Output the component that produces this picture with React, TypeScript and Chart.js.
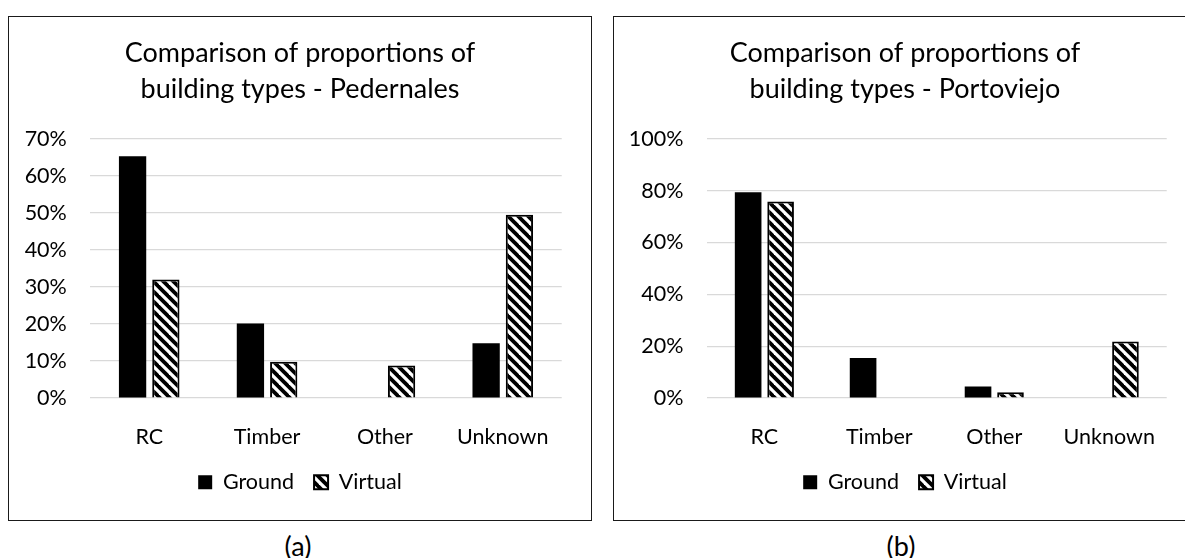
import React, { useEffect, useRef } from "react";
import { Chart, registerables } from "chart.js";

Chart.register(...registerables);

const categories = ["RC", "Timber", "Other", "Unknown"];
const seriesNames = ["Ground", "Virtual"];

const pedernalesTitle = ["Comparison of proportions of", "building types - Pedernales"];
const pedernalesGround = [65.3, 20.1, 0, 14.8];
const pedernalesVirtual = [32.0, 9.8, 8.8, 49.5];
const pedernalesMax = 70;
const pedernalesStep = 10;

const portoviejoTitle = ["Comparison of proportions of", "building types - Portoviejo"];
const portoviejoGround = [79.4, 15.4, 4.4, 0];
const portoviejoVirtual = [75.8, 0, 2.2, 21.8];
const portoviejoMax = 100;
const portoviejoStep = 20;

const captions = ["(a)", "(b)"];

const FONT = "Lato, 'Noto Sans', sans-serif";
const TITLE_SIZE = 27;
const LABEL_SIZE = 21.5;
const CANVAS_W = 582;
const CANVAS_H = 503;

function makePattern(): CanvasPattern | string {
  const c = document.createElement("canvas");
  c.width = 10;
  c.height = 10;
  const g = c.getContext("2d");
  if (!g) return "#888";
  g.fillStyle = "#fff";
  g.fillRect(0, 0, 10, 10);
  g.strokeStyle = "#000";
  g.lineWidth = 3.8;
  for (const k of [-10, 0, 10]) {
    g.beginPath();
    g.moveTo(k - 3, -3);
    g.lineTo(k + 13, 13);
    g.stroke();
  }
  return g.createPattern(c, "repeat") || "#888";
}

type Props = {
  title: string[];
  ground: number[];
  virtualVals: number[];
  yMax: number;
  yStep: number;
  yWidth: number;
};

function BarChart({ title, ground, virtualVals, yMax, yStep, yWidth }: Props) {
  const ref = useRef<HTMLCanvasElement>(null);
  useEffect(() => {
    if (!ref.current) return;
    const pattern = makePattern();
    const labelFont = { family: FONT, size: LABEL_SIZE };
    const chart = new Chart(ref.current, {
      type: "bar",
      data: {
        labels: categories,
        datasets: [
          {
            label: seriesNames[0],
            data: ground,
            backgroundColor: "#000",
            borderWidth: 0,
            categoryPercentage: 0.565,
            barPercentage: 0.82,
          },
          {
            label: seriesNames[1],
            data: virtualVals,
            backgroundColor: pattern as any,
            borderColor: "#000",
            borderWidth: 2,
            categoryPercentage: 0.565,
            barPercentage: 0.82,
          },
        ],
      },
      options: {
        responsive: false,
        animation: false,
        devicePixelRatio: 1,
        layout: { padding: { left: 0, right: 0, top: 0, bottom: 17 } },
        plugins: {
          title: {
            display: true,
            text: title,
            color: "#000",
            font: { family: FONT, size: TITLE_SIZE, weight: "normal", lineHeight: 35.6 / TITLE_SIZE },
            padding: { top: 18.6, bottom: 32 },
          },
          legend: {
            position: "bottom",
            labels: {
              boxWidth: 14,
              boxHeight: 14,
              padding: 20,
              color: "#000",
              font: labelFont,
            },
          },
          tooltip: { enabled: false },
        },
        scales: {
          x: {
            grid: { display: false },
            border: { display: false },
            ticks: { color: "#000", font: labelFont, padding: 18 },
            afterFit: (s: any) => {
              s.height = 53.5;
            },
          },
          y: {
            min: 0,
            max: yMax,
            ticks: {
              stepSize: yStep,
              color: "#000",
              font: labelFont,
              padding: 23.5,
              callback: (v: any) => `${Math.round(Number(v))}%`,
            },
            grid: { color: "#d9d9d9", lineWidth: 1.2, drawTicks: false },
            border: { display: false },
            afterFit: (s: any) => {
              s.width = yWidth;
            },
          },
          yR: {
            type: "linear",
            position: "right",
            display: true,
            grid: { display: false },
            border: { display: false },
            ticks: { display: false },
            afterFit: (s: any) => {
              s.width = 29.3;
            },
          },
        },
      } as any,
    });
    return () => chart.destroy();
  }, [title, ground, virtualVals, yMax, yStep, yWidth]);
  return (
    <canvas
      ref={ref}
      width={CANVAS_W}
      height={CANVAS_H}
      style={{ display: "block", width: CANVAS_W, height: CANVAS_H }}
    />
  );
}

const boxStyle = (left: number, width: number): React.CSSProperties => ({
  position: "absolute",
  left,
  top: 16,
  width,
  height: CANVAS_H,
  border: "1px solid #1a1a1a",
  background: "#fff",
  overflow: "hidden",
});

const captionStyle = (cx: number): React.CSSProperties => ({
  position: "absolute",
  left: cx - 40,
  width: 80,
  top: 546 - 17,
  height: 34,
  lineHeight: "34px",
  textAlign: "center",
  fontFamily: FONT,
  fontSize: 27,
  color: "#000",
});

export default function App() {
  return (
    <div
      style={{
        position: "absolute",
        left: 0,
        top: 0,
        width: 1185,
        height: 558,
        overflow: "hidden",
        background: "#fff",
      }}
    >
      <div style={boxStyle(8, CANVAS_W)}>
        <BarChart
          title={pedernalesTitle}
          ground={pedernalesGround}
          virtualVals={pedernalesVirtual}
          yMax={pedernalesMax}
          yStep={pedernalesStep}
          yWidth={81.3}
        />
      </div>
      <div style={boxStyle(613, 600)}>
        <BarChart
          title={portoviejoTitle}
          ground={portoviejoGround}
          virtualVals={portoviejoVirtual}
          yMax={portoviejoMax}
          yStep={portoviejoStep}
          yWidth={92.9}
        />
      </div>
      <div style={captionStyle(298)}>{captions[0]}</div>
      <div style={captionStyle(901)}>{captions[1]}</div>
    </div>
  );
}
